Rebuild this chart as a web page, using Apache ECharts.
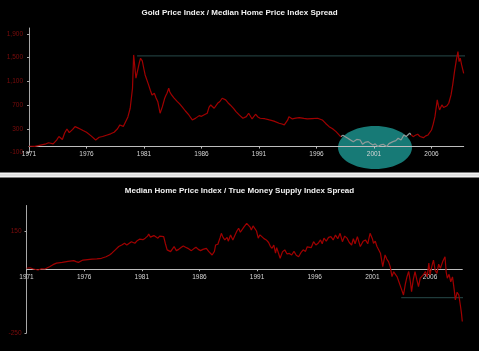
<!DOCTYPE html>
<html><head><meta charset="utf-8">
<script src="https://cdn.jsdelivr.net/npm/echarts@6/dist/echarts.min.js"></script>
<style>html,body{margin:0;padding:0;background:#000}#c{width:479px;height:351px}</style>
</head><body><div id="c"></div>
<script>
// ---------- data ----------
var baseYear = 1971;
var xTickYears = [1971, 1976, 1981, 1986, 1991, 1996, 2001, 2006];
var topTitle = 'Gold Price Index / Median Home Price Index Spread';
var bottomTitle = 'Median Home Price Index / True Money Supply Index Spread';
var topTickValues = [-100, 300, 700, 1100, 1500, 1900];
var bottomTickValues = [-250, 150];
var topRefLine = [[1980.4, 1530], [2009.3, 1530]];
var bottomRefLine = [[2003.5, -111], [2009.5, -111]];
var topHighlightYears = [1998.1, 2004.2];

var goldSpread = [
[1971.0,5],[1971.5,3],[1972.0,25],[1972.4,40],[1972.7,65],[1973.1,45],[1973.4,110],[1973.6,170],[1973.9,120],[1974.1,230],[1974.3,297],[1974.5,235],[1974.8,290],[1975.0,336],[1975.2,320],[1975.45,297],[1975.7,270],[1976.0,241],[1976.4,180],[1976.8,111],[1977.1,157],[1977.4,170],[1977.8,196],[1978.1,215],[1978.4,241],[1978.7,300],[1978.9,365],[1979.2,340],[1979.4,420],[1979.6,500],[1979.8,646],[1980.0,984],[1980.1,1546],[1980.2,1350],[1980.3,1153],[1980.45,1124],[1980.6,1420],[1980.7,1490],[1980.85,1445],[1981.0,1300],[1981.1,1208],[1981.4,1040],[1981.55,950],[1981.7,871],[1981.9,900],[1982.05,820],[1982.2,758],[1982.4,562],[1982.6,673],[1982.8,815],[1982.9,860],[1983.0,900],[1983.15,984],[1983.25,920],[1983.4,871],[1983.6,820],[1983.9,758],[1984.1,720],[1984.3,673],[1984.6,600],[1984.9,533],[1985.2,449],[1985.5,480],[1985.8,522],[1986.0,510],[1986.2,533],[1986.5,562],[1986.65,660],[1986.8,702],[1987.1,646],[1987.4,730],[1987.6,760],[1987.8,815],[1988.1,787],[1988.3,740],[1988.5,702],[1988.8,640],[1989.0,590],[1989.3,530],[1989.6,478],[1989.9,505],[1990.1,562],[1990.4,466],[1990.7,545],[1990.9,500],[1991.1,478],[1991.5,470],[1991.9,449],[1992.3,430],[1992.75,393],[1993.0,380],[1993.2,365],[1993.5,449],[1993.6,505],[1993.9,466],[1994.2,480],[1994.5,488],[1994.9,475],[1995.2,466],[1995.6,472],[1996.1,478],[1996.25,505],[1996.5,449],[1996.8,390],[1997.1,336],[1997.4,300],[1997.7,252],[1998.1,167],[1998.3,190],[1998.5,167],[1998.8,130],[1999.2,83],[1999.5,120],[1999.8,111],[2000.0,39],[2000.2,70],[2000.5,83],[2000.7,50],[2000.9,27],[2001.1,45],[2001.35,0],[2001.6,30],[2001.8,39],[2002.1,0],[2002.3,50],[2002.65,83],[2002.9,100],[2003.1,140],[2003.35,111],[2003.6,196],[2003.8,170],[2004.1,224],[2004.4,167],[2004.6,190],[2004.8,207],[2005.0,170],[2005.3,150],[2005.5,180],[2005.7,196],[2006.0,280],[2006.15,380],[2006.3,505],[2006.5,787],[2006.6,690],[2006.7,618],[2006.9,702],[2007.05,660],[2007.2,646],[2007.35,690],[2007.5,731],[2007.7,871],[2007.85,1050],[2008.0,1264],[2008.15,1450],[2008.3,1602],[2008.4,1433],[2008.5,1490],[2008.62,1377],[2008.8,1236]
];

var homeMoneySpread = [
[1971.0,4],[1971.3,6],[1971.6,1],[1972.0,-3],[1972.3,2],[1972.6,1],[1973.0,10],[1973.3,18],[1973.6,24],[1974.1,27],[1974.6,31],[1975.1,34],[1975.3,30],[1975.5,27],[1975.9,36],[1976.3,38],[1976.7,40],[1977.1,41],[1977.5,43],[1977.9,49],[1978.2,56],[1978.4,63],[1978.7,76],[1979.0,89],[1979.3,96],[1979.5,102],[1979.7,95],[1980.1,108],[1980.4,102],[1980.6,112],[1980.8,118],[1981.1,116],[1981.3,122],[1981.5,130],[1981.6,138],[1981.75,126],[1981.9,125],[1982.05,132],[1982.2,134],[1982.4,122],[1982.55,130],[1982.7,134],[1982.9,128],[1983.05,100],[1983.2,76],[1983.5,69],[1983.65,76],[1983.8,89],[1984.0,73],[1984.2,78],[1984.4,85],[1984.6,91],[1984.8,86],[1985.0,82],[1985.3,73],[1985.5,80],[1985.7,86],[1985.9,78],[1986.1,73],[1986.3,78],[1986.6,82],[1986.8,70],[1987.1,56],[1987.3,70],[1987.4,95],[1987.6,98],[1987.7,102],[1987.8,125],[1987.9,141],[1988.05,125],[1988.2,115],[1988.4,125],[1988.5,110],[1988.7,134],[1988.8,140],[1988.9,115],[1989.1,135],[1989.25,150],[1989.4,161],[1989.55,145],[1989.7,141],[1989.85,165],[1990.0,172],[1990.1,180],[1990.25,187],[1990.4,165],[1990.5,154],[1990.65,170],[1990.8,174],[1990.95,150],[1991.1,122],[1991.25,135],[1991.4,141],[1991.6,120],[1991.8,115],[1992.0,105],[1992.15,90],[1992.3,82],[1992.45,95],[1992.6,63],[1992.7,85],[1992.8,82],[1993.0,43],[1993.2,68],[1993.4,76],[1993.6,60],[1993.8,62],[1994.0,56],[1994.2,70],[1994.4,55],[1994.6,49],[1994.8,65],[1995.0,76],[1995.2,70],[1995.35,88],[1995.5,95],[1995.7,85],[1995.9,108],[1996.1,95],[1996.3,102],[1996.5,115],[1996.65,100],[1996.8,122],[1997.0,110],[1997.2,125],[1997.4,128],[1997.6,115],[1997.8,134],[1998.0,120],[1998.2,141],[1998.4,108],[1998.6,130],[1998.8,122],[1999.0,105],[1999.2,95],[1999.35,120],[1999.5,100],[1999.7,128],[1999.95,89],[2000.2,110],[2000.4,115],[2000.6,100],[2000.8,141],[2001.0,120],[2001.1,102],[2001.25,110],[2001.4,89],[2001.55,95],[2001.7,63],[2001.9,10],[2002.1,56],[2002.25,40],[2002.4,30],[2002.55,10],[2002.7,-29],[2002.85,-10],[2003.0,-3],[2003.15,-30],[2003.3,-49],[2003.5,-75],[2003.7,-101],[2003.85,-60],[2004.0,-30],[2004.15,-9],[2004.3,-50],[2004.4,-88],[2004.55,-40],[2004.7,-9],[2004.85,-40],[2005.0,-68],[2005.15,-35],[2005.3,-42],[2005.45,-20],[2005.6,-9],[2005.75,-30],[2005.9,24],[2006.0,-22],[2006.15,10],[2006.3,36],[2006.45,-5],[2006.6,-16],[2006.75,20],[2006.9,4],[2007.1,30],[2007.3,49],[2007.4,-10],[2007.5,-35],[2007.65,-20],[2007.8,-49],[2007.95,-30],[2008.1,-81],[2008.2,-120],[2008.35,-90],[2008.5,-101],[2008.65,-147],[2008.72,-170],[2008.8,-205]
];

// ---------- helpers ----------
function shift(arr) { return arr.map(function (p) { return [p[0] - baseYear, p[1]]; }); }
function xLabel(v) {
  var y = Math.round(v + baseYear);
  return (Math.abs(v + baseYear - y) < 1e-6 && xTickYears.indexOf(y) >= 0) ? String(y) : '';
}
function yLabelFactory(ticks) {
  return function (v) {
    for (var i = 0; i < ticks.length; i++) if (Math.abs(ticks[i] - v) < 1e-6) return v.toLocaleString('en-US');
    return '';
  };
}
var RED = '#a00000';
var xMax = 37.8;
var G0 = { left: 29, top: 28, width: 434.7, height: 124.5 };
var G1 = { left: 26.5, top: 205.5, width: 435.8, height: 127.5 };
var Y0 = [-100, 2000], Y1 = [-250, 250];
// axis offset so the x-axis sits on value 0
function zeroOffset(g, r) { return -g.height * (0 - r[0]) / (r[1] - r[0]); }

function makeX(gi, off) {
  return {
    type: 'value', gridIndex: gi, min: 0, max: xMax, interval: 5, position: 'bottom', offset: off,
    splitLine: { show: false },
    axisLine: { onZero: false, lineStyle: { color: '#bdbdbd', width: 1 } },
    axisTick: { show: true, length: 2, lineStyle: { color: '#bdbdbd' } },
    axisLabel: { color: '#d6d6d6', fontSize: 6.5, fontFamily: 'Liberation Sans', margin: 4, formatter: xLabel, showMaxLabel: false },
    z: 5
  };
}
function makeY(gi, r, ticks, margin) {
  return {
    type: 'value', gridIndex: gi, min: r[0], max: r[1], interval: 400,
    splitLine: { show: false },
    axisLine: { show: true, onZero: false, lineStyle: { color: '#a8a8a8', width: 1 } },
    axisTick: { show: true, length: 2, lineStyle: { color: '#a8a8a8' } },
    axisLabel: { color: '#7c0c0c', fontSize: 6.5, fontFamily: 'Liberation Sans', margin: margin, formatter: yLabelFactory(ticks), showMaxLabel: false },
    z: 5
  };
}

var chart = echarts.init(document.getElementById('c'), null, { renderer: 'canvas' });
chart.setOption({
  backgroundColor: '#000',
  animation: false,
  title: [
    { text: topTitle, left: 'center', top: 4, textStyle: { color: '#f0f0f0', fontSize: 8, fontWeight: 'bold', fontFamily: 'Liberation Sans' } },
    { text: bottomTitle, left: 'center', top: 182, textStyle: { color: '#f0f0f0', fontSize: 8, fontWeight: 'bold', fontFamily: 'Liberation Sans' } }
  ],
  grid: [G0, G1],
  xAxis: [makeX(0, zeroOffset(G0, Y0)), makeX(1, zeroOffset(G1, Y1))],
  yAxis: [makeY(0, Y0, topTickValues, 6), makeY(1, Y1, bottomTickValues, 5)],
  visualMap: [{
    show: false, type: 'piecewise', seriesIndex: 0, dimension: 0,
    pieces: [
      { lt: topHighlightYears[0] - baseYear, color: RED },
      { gte: topHighlightYears[0] - baseYear, lte: topHighlightYears[1] - baseYear, color: '#8e9a99' },
      { gt: topHighlightYears[1] - baseYear, color: RED }
    ]
  }],
  graphic: [
    { type: 'ellipse', shape: { cx: 375, cy: 147.5, rx: 37, ry: 21.5 }, style: { fill: '#177a76' }, z: 1 },
    { type: 'rect', shape: { x: 0, y: 172.5, width: 479, height: 5 }, style: { fill: '#f2f2f2' }, z: 1 },
    { type: 'line', shape: { x1: 0, y1: 175, x2: 479, y2: 175 }, style: { stroke: '#cfcfcf', lineWidth: 1 }, z: 2 }
  ],
  series: [
    { type: 'line', xAxisIndex: 0, yAxisIndex: 0, data: shift(goldSpread), showSymbol: false, symbol: 'none',
      lineStyle: { width: 1.2 }, z: 6 },
    { type: 'line', xAxisIndex: 0, yAxisIndex: 0, data: shift(topRefLine), showSymbol: false, symbol: 'none', clip: false,
      lineStyle: { color: '#1f3b3b', width: 1.2 }, z: 4 },
    { type: 'line', xAxisIndex: 1, yAxisIndex: 1, data: shift(homeMoneySpread), showSymbol: false, symbol: 'none',
      lineStyle: { color: RED, width: 1.2 }, z: 6 },
    { type: 'line', xAxisIndex: 1, yAxisIndex: 1, data: shift(bottomRefLine), showSymbol: false, symbol: 'none', clip: false,
      lineStyle: { color: '#1f3b3b', width: 1.2 }, z: 4 }
  ]
});
</script>
</body></html>
